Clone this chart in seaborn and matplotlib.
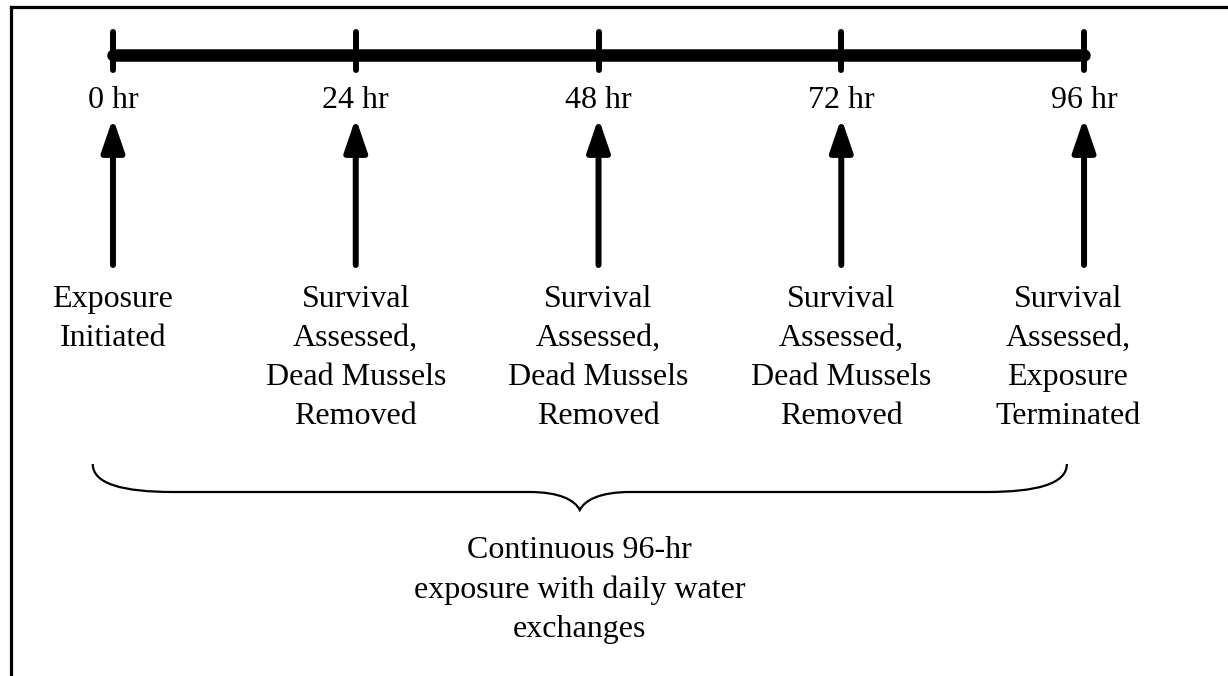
# Timeline of the 96-hr exposure test
import matplotlib
matplotlib.use('Agg')
import matplotlib.pyplot as plt
import seaborn as sns
from matplotlib.path import Path
from matplotlib.patches import PathPatch

sns.set_style('white')
plt.rcParams['font.family'] = ['Liberation Serif', 'DejaVu Serif']
plt.rcParams['text.color'] = 'black'

# Data
hours = [0, 24, 48, 72, 96]
hour_labels = ['0 hr', '24 hr', '48 hr', '72 hr', '96 hr']
event_labels = [
    'Exposure\nInitiated',
    'Survival\nAssessed,\nDead Mussels\nRemoved',
    'Survival\nAssessed,\nDead Mussels\nRemoved',
    'Survival\nAssessed,\nDead Mussels\nRemoved',
    'Survival\nAssessed,\nExposure\nTerminated',
]
event_x = [0, 24, 48, 72, 94.4]
brace_span = [-2.0, 94.3]
summary_text = 'Continuous 96-hr\nexposure with daily water\nexchanges'

# Figure: axes filling the frame, y measured downward from the top
fig = plt.figure(figsize=(12.28, 6.76), dpi=100)
ax = fig.add_axes([10.5 / 1228, 0, 1 - 10.5 / 1228, 1 - 7 / 676])
ax.set_xlim(-10.13, 110.23)
ax.set_ylim(676, 7)
ax.set_xticks([])
ax.set_yticks([])
for side in ['right', 'bottom']:
    ax.spines[side].set_visible(False)
for side in ['top', 'left']:
    ax.spines[side].set_visible(True)
    ax.spines[side].set_color('black')
    ax.spines[side].set_linewidth(2.3)

# Main timeline with tick marks
sns.lineplot(x=hours, y=[55] * len(hours), color='black', linewidth=9,
             solid_capstyle='round', ax=ax)
ax.vlines(hours, 32, 70, color='black', linewidth=4.3, capstyle='round')

fs = 23
for h, lab in zip(hours, hour_labels):
    ax.text(h, 108, lab, ha='center', va='baseline', fontsize=fs, color='black')
    ax.annotate('', xy=(h, 118), xytext=(h, 265),
                arrowprops=dict(arrowstyle='-|>,head_length=1.05,head_width=0.36',
                                mutation_scale=19, lw=4.3, color='black',
                                shrinkA=0, shrinkB=0))

for x, lab in zip(event_x, event_labels):
    ax.text(x, 285, lab, ha='center', va='top', fontsize=fs, linespacing=1.45,
            color='black')

# Curly brace under the labels
x0, x1 = brace_span
xc = (x0 + x1) / 2
verts = [
    (x0, 464), (x0, 484), (x0 + 3, 492), (x0 + 8, 492),
    (xc - 5, 492),
    (xc - 2, 492), (xc - 0.5, 500), (xc, 510),
    (xc + 0.5, 500), (xc + 2, 492), (xc + 5, 492),
    (x1 - 8, 492),
    (x1 - 3, 492), (x1, 484), (x1, 464),
]
codes = [Path.MOVETO, Path.CURVE4, Path.CURVE4, Path.CURVE4,
         Path.LINETO,
         Path.CURVE4, Path.CURVE4, Path.CURVE4,
         Path.CURVE4, Path.CURVE4, Path.CURVE4,
         Path.LINETO,
         Path.CURVE4, Path.CURVE4, Path.CURVE4]
ax.add_patch(PathPatch(Path(verts, codes), facecolor='none',
                       edgecolor='black', linewidth=1.6))

ax.text(xc, 536, summary_text, ha='center', va='top', fontsize=fs,
        linespacing=1.45, color='black')

fig.savefig('out.png', dpi=100)
